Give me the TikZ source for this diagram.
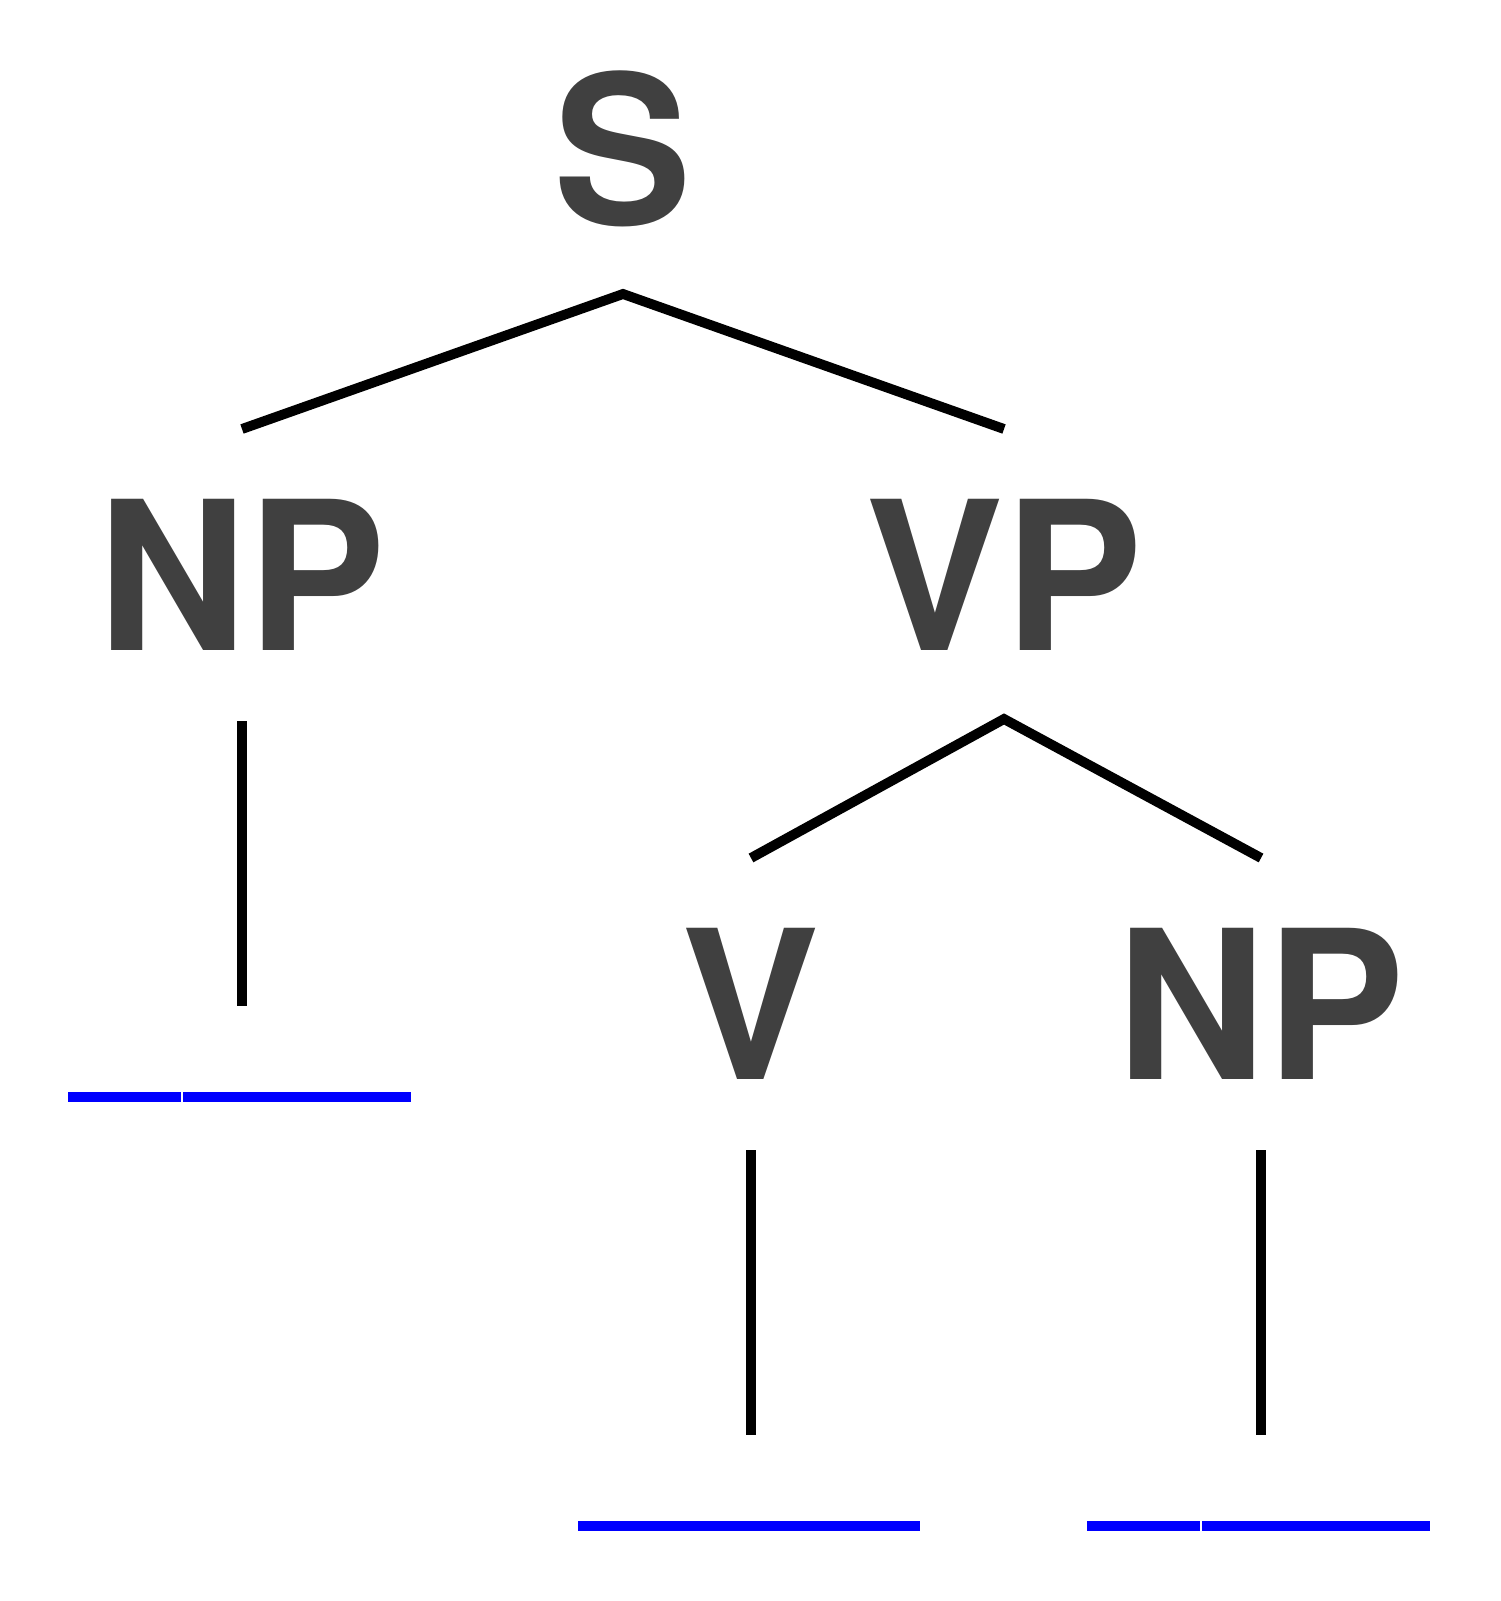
\documentclass[tikz,border=0pt]{standalone}
\usepackage{fontspec}
\setmainfont{TeX Gyre Heros}
\usetikzlibrary{calc}
\definecolor{labelgray}{HTML}{404040}
\definecolor{blankblue}{HTML}{0000FF}

\tikzset{
  cat/.style={font=\fontsize{59}{59}\selectfont\bfseries, text=labelgray, anchor=base, inner sep=0pt},
  branch/.style={line width=2.8pt, black},
  blank/.style={line width=2.8pt, blankblue},
}

\begin{document}
\begin{tikzpicture}[x=0.01cm, y=-0.01cm]
  \useasboundingbox (0,0) rectangle (1500,1601);

  % Categories
  \node[cat] (S) at (623,225) {S};
  \node[cat] (NPa) at (242,650) {NP};
  \node[cat] (VP) at (1004,650) {VP};
  \node[cat] (V) at (751,1079) {V};
  \node[cat] (NPb) at (1261,1079) {NP};

  % Branch ends
  \coordinate (S-b) at ($(S.base)+(0,69)$);
  \coordinate (NPa-t) at ($(NPa.base)+(0,-221)$);
  \coordinate (NPa-b) at ($(NPa.base)+(0,71)$);
  \coordinate (NPa-l) at ($(NPa.base)+(0,356)$);
  \coordinate (VP-t) at ($(VP.base)+(0,-221)$);
  \coordinate (VP-b) at ($(VP.base)+(0,69)$);
  \coordinate (V-t) at ($(V.base)+(0,-221)$);
  \coordinate (V-b) at ($(V.base)+(0,71)$);
  \coordinate (V-l) at ($(V.base)+(0,356)$);
  \coordinate (NPb-t) at ($(NPb.base)+(0,-221)$);
  \coordinate (NPb-b) at ($(NPb.base)+(0,71)$);
  \coordinate (NPb-l) at ($(NPb.base)+(0,356)$);

  % Branches
  \draw[branch] (NPa-t) -- (S-b) -- (VP-t);
  \draw[branch] (V-t) -- (VP-b) -- (NPb-t);
  \draw[branch] (NPa-b) -- (NPa-l);
  \draw[branch] (V-b) -- (V-l);
  \draw[branch] (NPb-b) -- (NPb-l);

  % Blanks
  \draw[blank] (68,1097) -- (181,1097);
  \draw[blank] (183,1097) -- (411,1097);
  \draw[blank] (578,1526) -- (920,1526);
  \draw[blank] (1087,1526) -- (1200,1526);
  \draw[blank] (1202,1526) -- (1430,1526);
\end{tikzpicture}
\end{document}
